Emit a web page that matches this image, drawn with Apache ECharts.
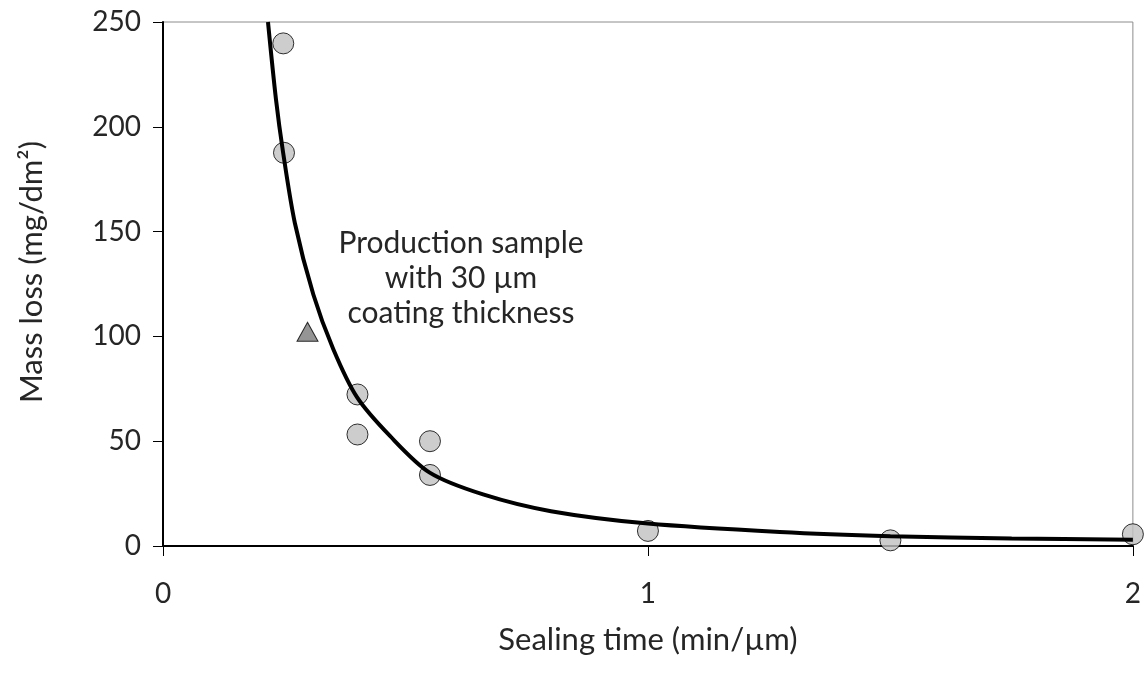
<!DOCTYPE html>
<html>
<head>
<meta charset="utf-8">
<script src="https://cdn.jsdelivr.net/npm/echarts@6/dist/echarts.min.js"></script>
<style>
html,body{margin:0;padding:0;background:#fff;}
#chart{width:1144px;height:673px;}
</style>
</head>
<body>
<div id="chart"></div>
<script>
// Measured circles (sealing time min/µm, mass loss mg/dm²)
const circleX = [0.248, 0.2495, 0.401, 0.401, 0.5505, 0.5505, 1.0, 1.5, 2.0];
const circleY = [239.8, 187.6, 72.3, 53.2, 50.0, 33.9, 7.2, 2.7, 5.6];
// Production sample (triangle)
const prodX = [0.298];
const prodY = [102.2];
// Fitted curve
const fitX = [0.2165, 0.233, 0.2475, 0.272, 0.31, 0.351, 0.4, 0.468, 0.55, 0.66, 0.8, 1.0, 1.272, 1.5, 1.75, 2.0];
const fitY = [250, 213, 188, 154, 120, 94, 71, 52.5, 35, 24.6, 16.6, 10.7, 6.7, 4.7, 3.6, 3.0];
// Axis ticks
const xTicks = [0, 1, 2];
const yTicks = [0, 50, 100, 150, 200, 250];
const annotation = ['Production sample', 'with 30 µm', 'coating thickness'];

const zip = (a, b) => a.map((v, i) => [v, b[i]]);
const FONT = 'Lato, "Open Sans", sans-serif';
const TXT = '#262626';

const chart = echarts.init(document.getElementById('chart'));
chart.setOption({
  animation: false,
  backgroundColor: '#fff',
  grid: { left: 163, right: 11, top: 22, bottom: 127, show: true, borderColor: '#8c8c8c', borderWidth: 1, backgroundColor: 'transparent' },
  xAxis: {
    type: 'value', min: xTicks[0], max: xTicks[xTicks.length - 1], interval: 1,
    name: 'Sealing time (min/µm)', nameLocation: 'middle', nameGap: 78,
    nameTextStyle: { fontFamily: FONT, fontSize: 31, color: TXT },
    axisLine: { show: true, lineStyle: { color: '#000', width: 2 } },
    axisTick: { show: true, inside: false, length: 10, lineStyle: { color: '#000', width: 1 } },
    axisLabel: { fontFamily: FONT, fontSize: 28, color: TXT, margin: 34 },
    splitLine: { show: false }
  },
  yAxis: {
    type: 'value', min: yTicks[0], max: yTicks[yTicks.length - 1], interval: 50,
    name: 'Mass loss (mg/dm²)', nameLocation: 'middle', nameGap: 116,
    nameTextStyle: { fontFamily: FONT, fontSize: 31, color: TXT, padding: [0, 0, 0, 24] },
    axisLine: { show: true, lineStyle: { color: '#000', width: 2 } },
    axisTick: { show: true, inside: false, length: 10, lineStyle: { color: '#000', width: 1 } },
    axisLabel: { fontFamily: FONT, fontSize: 28, color: TXT, margin: 22 },
    splitLine: { show: false }
  },
  series: [
    {
      type: 'scatter', data: zip(circleX, circleY), symbol: 'circle', symbolSize: 21,
      itemStyle: { color: '#c0c0c0', borderColor: '#000', borderWidth: 1 }, z: 2
    },
    {
      type: 'scatter', data: zip(prodX, prodY), symbol: 'triangle', symbolSize: [21, 19],
      itemStyle: { color: '#7a7a7a', borderColor: '#000', borderWidth: 1 }, z: 2
    },
    {
      type: 'line', data: zip(fitX, fitY), smooth: 0.3, showSymbol: false,
      lineStyle: { color: '#000', width: 4 }, clip: true, z: 3
    }
  ],
  graphic: [{
    type: 'text', x: 461, y: 226,
    style: {
      text: annotation.join('\n'), fontFamily: FONT, fontSize: 30, fill: TXT,
      align: 'center', verticalAlign: 'top', lineHeight: 35
    }
  }]
});
</script>
</body>
</html>
